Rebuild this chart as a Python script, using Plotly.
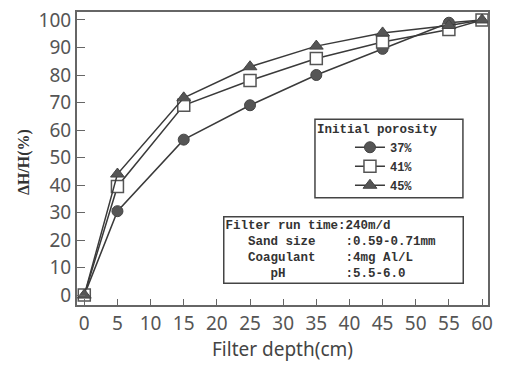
import plotly.graph_objects as go

depth = [0, 5, 15, 25, 35, 45, 55, 60]
p37 = [0, 30.5, 56.5, 69, 80, 89.5, 99, 100]
p41 = [0, 39.5, 69, 78, 86, 92, 96.5, 100]
p45 = [0, 44, 71.7, 83, 90.5, 95.3, 98, 100]
x_ticks = list(range(0, 61, 5))
y_ticks = list(range(0, 101, 10))
series_names = ["37%", "41%", "45%"]

markers = [
    dict(symbol="circle", size=11, color="#555555", line=dict(color="#444444", width=1)),
    dict(symbol="square", size=12, color="white", line=dict(color="#555555", width=1.5)),
    dict(symbol="triangle-up", size=12, color="#555555", line=dict(color="#444444", width=1)),
]

fig = go.Figure()
for name, vals, mk in zip(series_names, [p37, p41, p45], markers):
    fig.add_trace(go.Scatter(x=depth, y=vals, name="<b>" + name + "</b>", mode="lines+markers",
                             line=dict(color="#3a3a3a", width=1.5), marker=mk))

tick_font = dict(family="Noto Sans", size=19, color="#555555")
mono = "Liberation Mono"
nb = "\u00a0"

fig.update_layout(
    width=507, height=366,
    margin=dict(l=77, r=19, t=7, b=61),
    paper_bgcolor="white", plot_bgcolor="white",
    showlegend=True,
    legend=dict(
        x=0.579, y=0.50, xanchor="left", yanchor="middle",
        bgcolor="rgba(0,0,0,0)", borderwidth=0,
        font=dict(family=mono, size=12, color="#333333"),
        title=dict(text="<b>Initial porosity</b>",
                   font=dict(family=mono, size=12.5, color="#333333")),
        indentation=35, itemwidth=30,
    ),
    xaxis=dict(range=[-1.1, 60.9], tickvals=x_ticks, ticks="inside", ticklen=6,
               tickcolor="#666666", showline=True, linecolor="#666666", linewidth=2,
               mirror=True, showgrid=False, zeroline=False, tickfont=tick_font,
               title=dict(text="Filter depth(cm)", font=dict(family="Noto Sans", size=19, color="#444444"), standoff=8)),
    yaxis=dict(range=[-3.6, 102.9], tickvals=y_ticks, ticks="inside", ticklen=8,
               tickcolor="#666666", showline=True, linecolor="#666666", linewidth=2,
               mirror=True, showgrid=False, zeroline=False, tickfont=tick_font,
               ticklabelstandoff=0),
)

# legend frame
fig.add_shape(type="rect", xref="paper", yref="paper", x0=0.579, x1=0.939, y0=0.366, y1=0.634,
              line=dict(color="#444444", width=1.5), fillcolor="white", layer="above")

# y-axis title
fig.add_annotation(xref="paper", yref="paper", x=-0.127, y=0.487, text="<b>ΔH/H(%)</b>",
                   textangle=-90, showarrow=False, xanchor="center", yanchor="middle",
                   font=dict(family="Liberation Serif", size=16, color="#333333"))

info_lines = [
    "Filter run time:240m/d",
    "   Sand size    :0.59-0.71mm",
    "   Coagulant    :4mg Al/L",
    "      pH        :5.5-6.0",
]
info_text = "<br>".join("<b>" + ln.replace(" ", nb) + "</b>" for ln in info_lines)
fig.add_annotation(xref="paper", yref="paper", x=0.355, y=0.305, text=info_text,
                   showarrow=False, xanchor="left", yanchor="top", align="left",
                   width=236, borderpad=1, bgcolor="white",
                   bordercolor="#444444", borderwidth=1.5,
                   font=dict(family=mono, size=12.5, color="#333333"))

fig.write_html("out.html")
